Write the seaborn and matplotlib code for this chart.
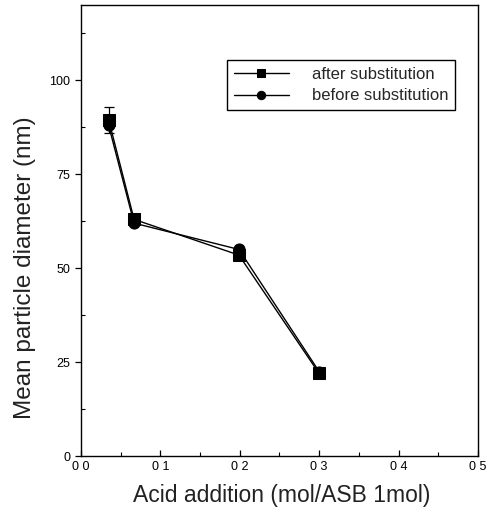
import numpy as np
import pandas as pd
import matplotlib
matplotlib.use("Agg")
import matplotlib.pyplot as plt
import seaborn as sns
from matplotlib.ticker import MultipleLocator, FixedLocator, FixedFormatter

acid = [0.035, 0.067, 0.199, 0.300]
after_sub = [89.5, 63.0, 53.5, 22.0]
before_sub = [88.0, 62.0, 55.0, 22.5]
after_err = [3.5, 0.0, 0.0, 0.0]
series_names = ["after substitution", "before substitution"]
x_ticks = [0.0, 0.1, 0.2, 0.3, 0.4, 0.5]
x_tick_labels = ["0 0", "0 1", "0 2", "0 3", "0 4", "0 5"]
y_ticks = [0, 25, 50, 75, 100]

df = pd.DataFrame({
    "acid": acid * 2,
    "diameter": after_sub + before_sub,
    "series": [series_names[0]] * len(acid) + [series_names[1]] * len(acid),
})

sns.set_theme(style="ticks")
plt.rcParams["font.family"] = ["Liberation Sans", "DejaVu Sans"]

fig = plt.figure(figsize=(4.99, 5.12), dpi=100)
ax = fig.add_axes([0.162, 0.109, 0.796, 0.881])

sns.lineplot(data=df, x="acid", y="diameter", hue="series", style="series",
             markers={series_names[0]: "s", series_names[1]: "o"},
             dashes=False, palette=["black", "black"], markersize=8,
             linewidth=1.0, markeredgecolor="black", ax=ax)

ax.errorbar(acid, after_sub, yerr=after_err, fmt="none", ecolor="black",
            elinewidth=0.9, capsize=3.5, capthick=0.9)

ax.set_xlim(0, 0.5)
ax.set_ylim(0, 120)
ax.xaxis.set_major_locator(FixedLocator(x_ticks))
ax.xaxis.set_major_formatter(FixedFormatter(x_tick_labels))
ax.xaxis.set_minor_locator(MultipleLocator(0.05))
ax.yaxis.set_major_locator(FixedLocator(y_ticks))
ax.yaxis.set_minor_locator(MultipleLocator(12.5))
ax.tick_params(axis="both", which="major", labelsize=9, length=4, width=0.9,
               color="black", labelcolor="black")
ax.tick_params(axis="both", which="minor", length=3, width=0.8, color="black")
ax.tick_params(axis="x", which="both", direction="in")
ax.tick_params(axis="y", which="minor", direction="in")
ax.tick_params(axis="y", which="major", direction="out")

for s in ax.spines.values():
    s.set_visible(True)
    s.set_color("black")
    s.set_linewidth(1.0)

ax.set_xlabel("Acid addition (mol/ASB 1mol)", fontsize=16.5, color="#222222",
              va="center")
ax.xaxis.set_label_coords(0.505, -0.0865)
ax.set_ylabel("Mean particle diameter (nm)", fontsize=17.5, color="#222222",
              va="center")
ax.yaxis.set_label_coords(-0.141, 0.417)

leg = ax.legend(loc="upper right", bbox_to_anchor=(0.942, 0.878), fontsize=12,
                frameon=True, fancybox=False, edgecolor="black", framealpha=1,
                handlelength=3.3, handletextpad=1.4, borderpad=0.4,
                labelspacing=0.4, markerscale=0.75, borderaxespad=0)
leg.get_frame().set_linewidth(1.0)

fig.savefig("out.png", dpi=100)
